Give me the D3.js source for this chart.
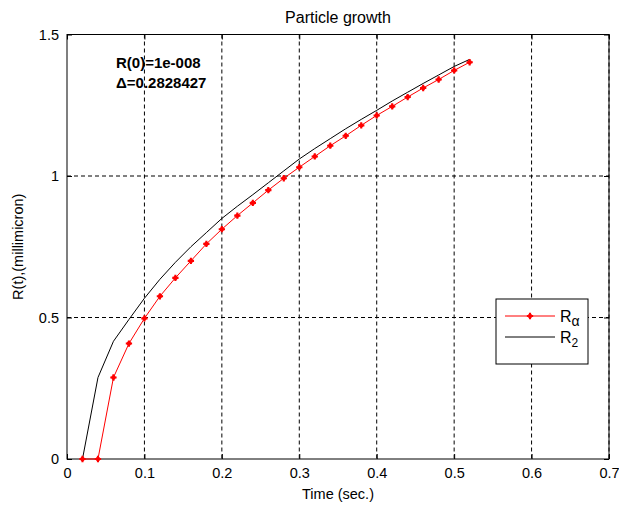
<!DOCTYPE html>
<html>
<head>
<meta charset="utf-8">
<script src="https://cdn.jsdelivr.net/npm/d3@7"></script>
<style>
    body { margin: 0; background: #fff; }
    text { font-family: "Liberation Sans", Arial, sans-serif; fill: #000; }
</style>
</head>
<body>
<svg id="chart" width="619" height="506"></svg>
<script>
// values
const time = [0.02, 0.04, 0.06, 0.08, 0.10, 0.12, 0.14, 0.16, 0.18, 0.20, 0.22, 0.24, 0.26,
              0.28, 0.30, 0.32, 0.34, 0.36, 0.38, 0.40, 0.42, 0.44, 0.46, 0.48, 0.50, 0.52];
const rAlpha = [0, 0, 0.288, 0.408, 0.497, 0.575, 0.64, 0.70, 0.76, 0.812, 0.86, 0.905, 0.95,
                0.992, 1.031, 1.069, 1.107, 1.142, 1.179, 1.214, 1.246, 1.279, 1.311, 1.341, 1.373, 1.402];
const r2 = [0, 0.288, 0.416, 0.493, 0.568, 0.635, 0.695, 0.75, 0.80, 0.85, 0.893, 0.934, 0.976,
            1.018, 1.06, 1.097, 1.132, 1.167, 1.2, 1.232, 1.265, 1.296, 1.327, 1.357, 1.387, 1.412];
const xTicks = [0, 0.1, 0.2, 0.3, 0.4, 0.5, 0.6, 0.7];
const yTicks = [0, 0.5, 1, 1.5];

const svg = d3.select("#chart");
const mLeft = 67, mRight = 609, mTop = 34.5, mBottom = 459;

const x = d3.scaleLinear().domain([0, 0.7]).range([mLeft, mRight]);
const y = d3.scaleLinear().domain([0, 1.5]).range([mBottom, mTop]);

// grid
svg.append("g").selectAll("line")
    .data(xTicks.slice(1))
    .join("line")
    .attr("x1", d => x(d)).attr("x2", d => x(d))
    .attr("y1", mTop).attr("y2", mBottom)
    .attr("stroke", "#000").attr("stroke-dasharray", "4,3");
svg.append("g").selectAll("line")
    .data(yTicks.slice(1))
    .join("line")
    .attr("x1", mLeft).attr("x2", mRight)
    .attr("y1", d => y(d)).attr("y2", d => y(d))
    .attr("stroke", "#000").attr("stroke-dasharray", "4,3");

// axes (ticks inside, like matlab)
const fmt = d => d === 0 ? "0" : String(d);
svg.append("g").attr("transform", `translate(0,${mBottom})`)
    .call(d3.axisBottom(x).tickValues(xTicks).tickFormat(fmt).tickSizeInner(-5).tickSizeOuter(0).tickPadding(9));
svg.append("g").attr("transform", `translate(${mLeft},0)`)
    .call(d3.axisLeft(y).tickValues(yTicks).tickFormat(fmt).tickSizeInner(-5).tickSizeOuter(0).tickPadding(8));
svg.append("g").attr("transform", `translate(0,${mTop})`)
    .call(d3.axisTop(x).tickValues(xTicks).tickFormat("").tickSizeInner(-5).tickSizeOuter(0));
svg.append("g").attr("transform", `translate(${mRight},0)`)
    .call(d3.axisRight(y).tickValues(yTicks).tickFormat("").tickSizeInner(-5).tickSizeOuter(0));
svg.selectAll(".domain").remove();
svg.selectAll(".tick line").attr("stroke", "#000");
svg.selectAll(".tick text").style("font-size", "14.5px").style("font-family", "Liberation Sans, Arial, sans-serif");

// box
svg.append("rect")
    .attr("x", mLeft).attr("y", mTop)
    .attr("width", mRight - mLeft).attr("height", mBottom - mTop)
    .attr("fill", "none").attr("stroke", "#000").attr("stroke-width", 1);

// series
const line = d3.line().x(d => x(d[0])).y(d => y(d[1]));
const redPts = time.map((t, i) => [t, rAlpha[i]]);
const blackPts = time.map((t, i) => [t, r2[i]]);

svg.append("path").datum(blackPts).attr("d", line)
    .attr("fill", "none").attr("stroke", "#000").attr("stroke-width", 1);
svg.append("path").datum(redPts).attr("d", line)
    .attr("fill", "none").attr("stroke", "#ff0000").attr("stroke-width", 1);

const marker = d3.symbol().type(d3.symbolCross).size(22);
svg.append("g").selectAll("path")
    .data(redPts)
    .join("path")
    .attr("transform", d => `translate(${x(d[0])},${y(d[1])})`)
    .attr("d", marker)
    .attr("fill", "#ff0000");
svg.append("g").selectAll("circle")
    .data(redPts)
    .join("circle")
    .attr("cx", d => x(d[0])).attr("cy", d => y(d[1]))
    .attr("r", 2.2)
    .attr("fill", "#ff0000");

// title and labels
svg.append("text").attr("x", (mLeft + mRight) / 2).attr("y", 23)
    .attr("text-anchor", "middle").style("font-size", "16px").text("Particle growth");
svg.append("text").attr("x", (mLeft + mRight) / 2).attr("y", 499)
    .attr("text-anchor", "middle").style("font-size", "14.5px").text("Time (sec.)");
svg.append("text")
    .attr("transform", `translate(23,${(mTop + mBottom) / 2}) rotate(-90)`)
    .attr("text-anchor", "middle").style("font-size", "14.5px").text("R(t),(millimicron)");

// annotation
svg.append("text").attr("x", 116).attr("y", 68)
    .style("font-size", "15px").style("font-weight", "bold").text("R(0)=1e-008");
svg.append("text").attr("x", 116).attr("y", 88)
    .style("font-size", "15px").style("font-weight", "bold").text("Δ=0.2828427");

// legend
const lg = svg.append("g");
lg.append("rect").attr("x", 496).attr("y", 299).attr("width", 92).attr("height", 65)
    .attr("fill", "#fff").attr("stroke", "#000");
lg.append("line").attr("x1", 505).attr("x2", 555).attr("y1", 316).attr("y2", 316)
    .attr("stroke", "#ff0000");
lg.append("path").attr("transform", "translate(530,316)").attr("d", marker).attr("fill", "#ff0000");
lg.append("circle").attr("cx", 530).attr("cy", 316).attr("r", 2.2).attr("fill", "#ff0000");
lg.append("line").attr("x1", 505).attr("x2", 555).attr("y1", 337).attr("y2", 337)
    .attr("stroke", "#000");
const t1 = lg.append("text").attr("x", 560).attr("y", 322).style("font-size", "16px");
t1.append("tspan").text("R");
t1.append("tspan").attr("dy", 4).style("font-size", "14px").text("α");
const t2 = lg.append("text").attr("x", 560).attr("y", 343).style("font-size", "16px");
t2.append("tspan").text("R");
t2.append("tspan").attr("dy", 4).style("font-size", "12px").text("2");
</script>
</body>
</html>
